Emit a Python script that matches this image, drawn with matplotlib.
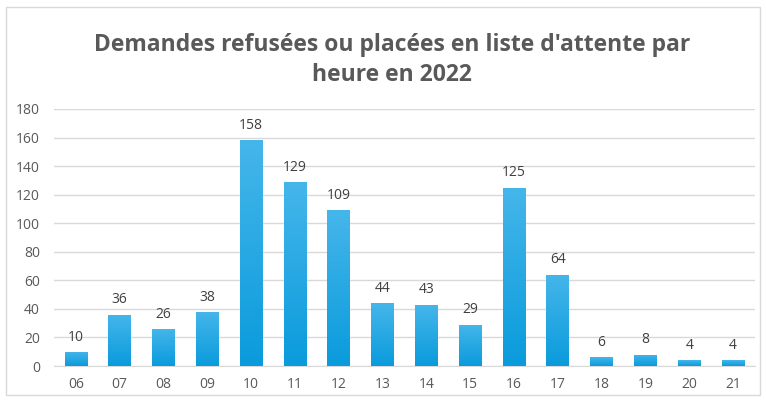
import matplotlib
matplotlib.use('Agg')
import matplotlib.pyplot as plt
import numpy as np
from matplotlib.colors import LinearSegmentedColormap
from matplotlib.patches import Rectangle

hours = ['06', '07', '08', '09', '10', '11', '12', '13', '14', '15', '16', '17', '18', '19', '20', '21']
demandes = [10, 36, 26, 38, 158, 129, 109, 44, 43, 29, 125, 64, 6, 8, 4, 4]

plt.rcParams['font.family'] = ['Open Sans', 'DejaVu Sans']

fig = plt.figure(figsize=(7.66, 4.01), dpi=100)
fig.patch.set_facecolor('white')
fig.patches.append(Rectangle((6 / 766, 6 / 401), 754 / 766, 388 / 401, transform=fig.transFigure,
                             fill=False, edgecolor='#d9d9d9', linewidth=1))

ax = fig.add_axes([54 / 766, 35 / 401, 701 / 766, 257 / 401])
x = np.arange(len(hours))
bars = ax.bar(x, demandes, width=0.52, color='#1aa7e4', zorder=3)

# degrade vertical comme dans l'original
cmap = LinearSegmentedColormap.from_list('bleu', ['#0a9bdc', '#45b6ea'])
grad = np.linspace(0, 1, 100).reshape(-1, 1)
for b in bars:
    x0, y0 = b.get_x(), b.get_y()
    im = ax.imshow(grad, cmap=cmap, origin='lower', aspect='auto', zorder=4,
                   extent=[x0, x0 + b.get_width(), y0, y0 + b.get_height()])
    im.set_clip_path(b)

for xi, v in zip(x, demandes):
    ax.text(xi, v + 5, str(v), ha='center', va='bottom', fontsize=10, color='#404040', zorder=5)

ax.set_xlim(-0.5, len(hours) - 0.5)
ax.set_ylim(0, 180)
ax.set_yticks(range(0, 181, 20))
ax.set_xticks(x)
ax.set_xticklabels(hours)
ax.tick_params(length=0, labelsize=10, labelcolor='#595959')
ax.tick_params(axis='y', pad=10)
ax.tick_params(axis='x', pad=8)
ax.grid(axis='y', color='#d9d9d9', linewidth=1, zorder=0)
for s in ['top', 'right', 'left']:
    ax.spines[s].set_visible(False)
ax.spines['bottom'].set_color('#d9d9d9')

fig.text(392 / 766, 1 - 60 / 401, "Demandes refusées ou placées en liste d'attente par\nheure en 2022",
         ha='center', va='center', fontsize=16.5, fontweight='bold', color='#595959', linespacing=1.28)

plt.savefig('out.png', dpi=100)
